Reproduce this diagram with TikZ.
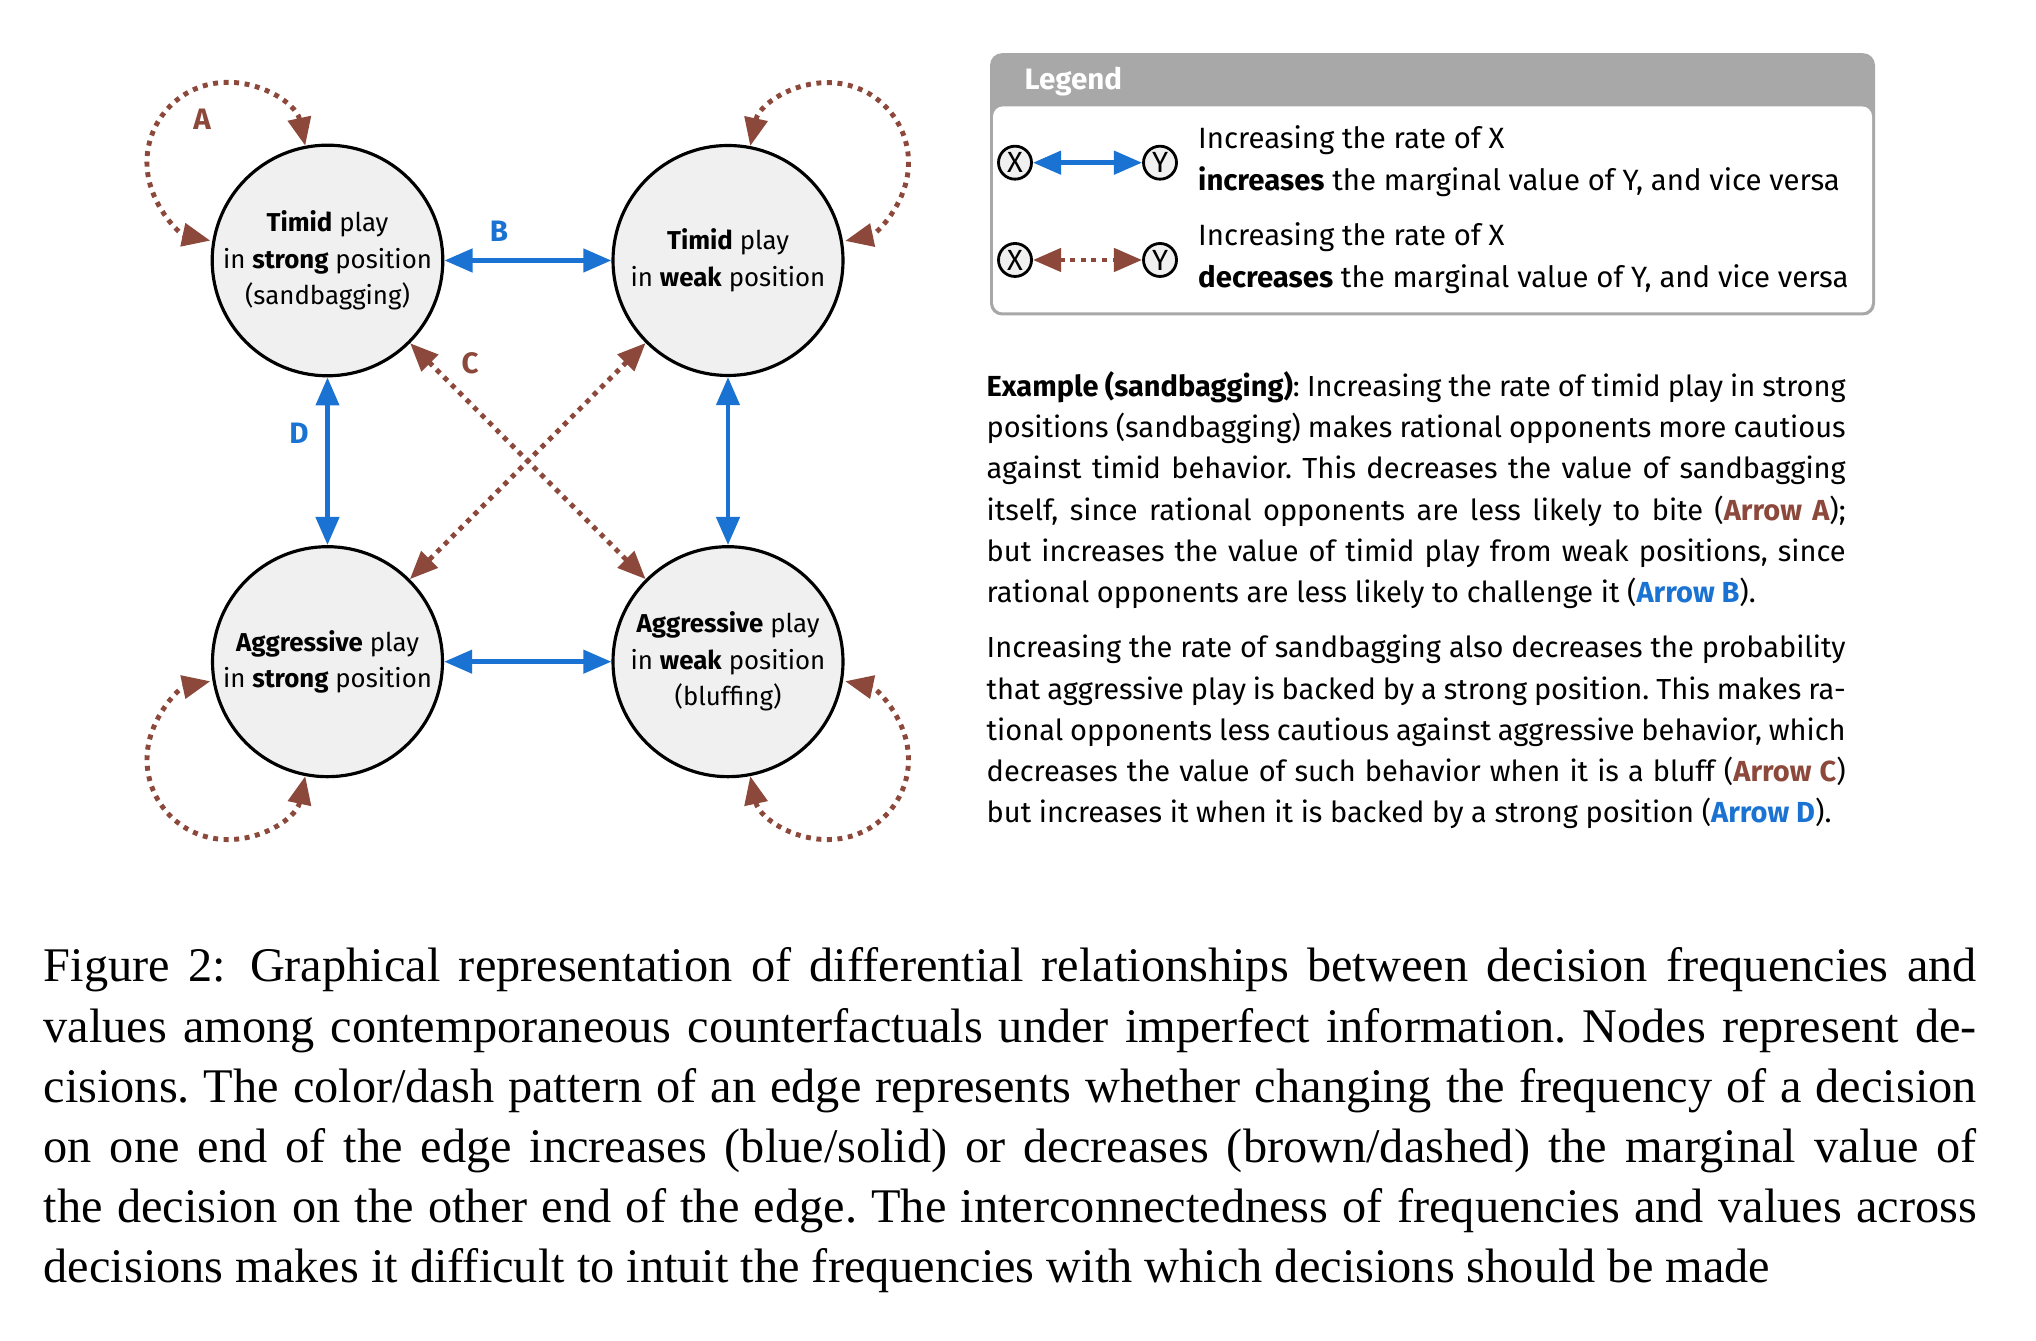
\documentclass[tikz,border=0pt]{standalone}
\usepackage{fontspec}
\setmainfont{Fira Sans}
\newfontfamily\capfont{Liberation Serif}
\usetikzlibrary{arrows.meta,positioning}

\definecolor{incblue}{RGB}{26,115,210}
\definecolor{decbrown}{RGB}{140,72,58}
\definecolor{nodegray}{RGB}{240,240,240}
\definecolor{headgray}{RGB}{168,168,168}

\newcommand{\capspacing}{\frenchspacing\spaceskip=0.25em plus 0.2em minus 0.12em\relax}

\tikzset{
  decision/.style={circle, draw, line width=0.9pt, fill=nodegray, minimum size=2.3cm,
    inner sep=0pt, align=center, font=\fontsize{7.35}{10.4}\selectfont},
  incr/.style={{Triangle[length=8pt,width=6.5pt]}-{Triangle[length=8pt,width=6.5pt]},
    incblue, line width=1.4pt},
  decr/.style={{Triangle[length=8pt,width=6.5pt]}-{Triangle[length=8pt,width=6.5pt]},
    decbrown, line width=1.4pt, dash pattern=on 1.4pt off 1.6pt},
  arrowlabel/.style={font=\fontsize{8.4}{9}\selectfont\bfseries},
  mini/.style={circle, draw, line width=0.8pt, fill=nodegray, minimum size=0.33cm,
    inner sep=0pt, font=\fontsize{8.3}{9}\selectfont},
  legendtext/.style={anchor=west, inner sep=0pt, align=left, font=\fontsize{8.35}{11.8}\selectfont},
  prose/.style={anchor=base west, inner sep=0pt, text width=8.59cm, align=justify,
    font=\fontsize{8.25}{11.7}\selectfont\frenchspacing},
}

\begin{document}
\begin{tikzpicture}
    \useasboundingbox (0,0) rectangle (20.36,13.40);

    % Decisions
    \node [decision] (ts) at (3.275,10.795) {\textbf{Timid} play\\in \textbf{strong} position\\(sandbagging)};
    \node [decision] (tw) at (7.28,10.795) {\textbf{Timid} play\\in \textbf{weak} position};
    \node [decision] (as) at (3.275,6.783) {\textbf{Aggressive} play\\in \textbf{strong} position};
    \node [decision] (aw) at (7.28,6.783) {\textbf{Aggressive} play\\in \textbf{weak} position\\(bluffing)};

    % Increasing relations
    \draw [incr] (ts) -- (tw);
    \draw [incr] (ts) -- (as);
    \draw [incr] (tw) -- (aw);
    \draw [incr] (as) -- (aw);

    % Decreasing relations
    \draw [decr] (ts) -- (aw);
    \draw [decr] (tw) -- (as);
    \draw [decr] (ts.101) arc [start angle=12, end angle=258, radius=0.8];
    \draw [decr] (tw.79) arc [start angle=168, end angle=-78, radius=0.8];
    \draw [decr] (as.259) arc [start angle=-12, end angle=-258, radius=0.8];
    \draw [decr] (aw.281) arc [start angle=192, end angle=438, radius=0.8];

    % Arrow names
    \node [arrowlabel, decbrown] (lblA) at (2.02,12.21) {A};
    \node [arrowlabel, incblue] (lblB) at (4.99,11.09) {B};
    \node [arrowlabel, decbrown] (lblC) at (4.70,9.77) {C};
    \node [arrowlabel, incblue] (lblD) at (2.99,9.07) {D};

    % Legend
    \fill [headgray, rounded corners=0.12cm] (9.90,10.245) rectangle (18.75,12.868);
    \fill [white, rounded corners=0.1cm] (9.93,10.275) rectangle (18.72,12.336);
    \node [anchor=base west, inner sep=0pt, text=white, font=\fontsize{8.4}{9}\selectfont\bfseries] (legend) at (10.24,12.50) {Legend};
    \node [mini] (x1) at (10.15,11.773) {X};
    \node [mini] (y1) at (11.60,11.773) {Y};
    \draw [incr] (x1) -- (y1);
    \node [mini] (x2) at (10.15,10.80) {X};
    \node [mini] (y2) at (11.60,10.80) {Y};
    \draw [decr] (x2) -- (y2);
    \node [legendtext] (inctext) at (11.975,11.79)
        {Increasing the rate of X\\\textbf{increases} the marginal value of Y, and vice versa};
    \node [legendtext] (dectext) at (11.975,10.82)
        {Increasing the rate of X\\\textbf{decreases} the marginal value of Y, and vice versa};

    % Example text
    \node [prose] (example) at (9.86,9.433) {\textbf{Example (sandbagging)}: Increasing the rate of timid play in strong\linebreak
        positions (sandbagging) makes rational opponents more cautious\linebreak
        against timid behavior. This decreases the value of sandbagging\linebreak
        itself, since rational opponents are less likely to bite (\textbf{\color{decbrown}Arrow A});\linebreak
        but increases the value of timid play from weak positions, since\linebreak
        rational opponents are less likely to challenge it (\textbf{\color{incblue}Arrow B}).};
    \node [prose] (bluff) at (9.86,6.82) {Increasing the rate of sandbagging also decreases the probability\linebreak
        that aggressive play is backed by a strong position. This makes ra-\linebreak
        tional opponents less cautious against aggressive behavior, which\linebreak
        decreases the value of such behavior when it is a bluff (\textbf{\color{decbrown}Arrow C})\linebreak
        but increases it when it is backed by a strong position (\textbf{\color{incblue}Arrow D}).};

    % Caption
    \node [anchor=base west, inner sep=0pt, text width=19.33cm, align=justify,
        font=\capfont\fontsize{13.75}{17.1}\selectfont\capspacing] (caption) at (0.43,3.58)
        {Figure 2:\enspace Graphical representation of differential relationships between decision frequencies and\linebreak
        values among contemporaneous counterfactuals under imperfect information. Nodes represent de-\linebreak
        cisions. The color/dash pattern of an edge represents whether changing the frequency of a decision\linebreak
        on one end of the edge increases (blue/solid) or decreases (brown/dashed) the marginal value of\linebreak
        the decision on the other end of the edge. The interconnectedness of frequencies and values across\linebreak
        decisions makes it difficult to intuit the frequencies with which decisions should be made};
\end{tikzpicture}
\end{document}
